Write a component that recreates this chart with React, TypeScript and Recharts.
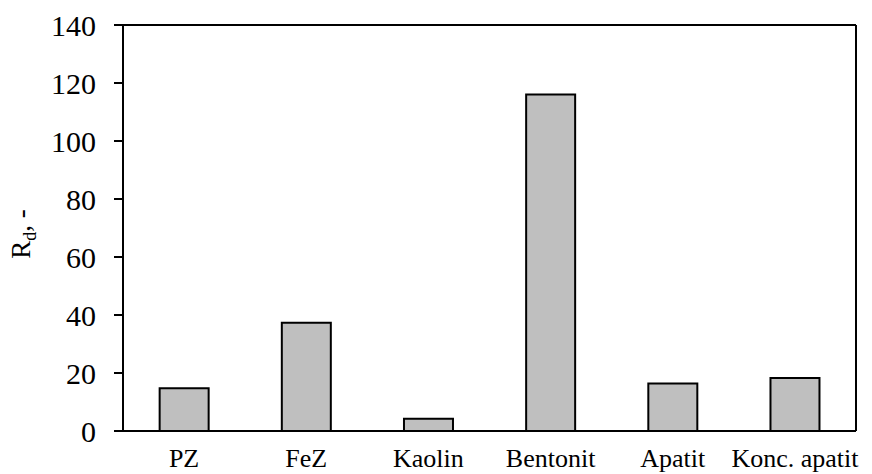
import { BarChart, Bar, XAxis, YAxis, ReferenceLine } from "recharts";

const categories = ["PZ", "FeZ", "Kaolin", "Bentonit", "Apatit", "Konc. apatit"];
const rdValues = [14.7, 37.3, 4.2, 116, 16.4, 18.3];
const yTicks = [0, 20, 40, 60, 80, 100, 120, 140];

const FONT = "'Times New Roman', 'Liberation Serif', 'DejaVu Serif', serif";

const data = categories.map((name, i) => ({ name, rd: rdValues[i] }));

function YLabel({ viewBox }: any) {
    const cx = 30;
    const cy = viewBox.y + viewBox.height / 2 + 6;
    return (
        <text
            x={cx}
            y={cy}
            transform={`rotate(-90, ${cx}, ${cy})`}
            textAnchor="middle"
            style={{ fontFamily: FONT, fontSize: 27 }}
            fill="#000"
        >
            R
            <tspan fontSize={18} dy={6}>d</tspan>
            <tspan dy={-6}>, -</tspan>
        </text>
    );
}

export default function App() {
    return (
        <div style={{ position: "absolute", left: 0, top: 0, background: "#fff", fontFamily: FONT }}>
            <BarChart
                width={872}
                height={474}
                data={data}
                margin={{ top: 25, right: 15, left: 0, bottom: 0 }}
                barCategoryGap="30%"
                style={{ fontFamily: FONT }}
            >
                <XAxis
                    dataKey="name"
                    height={43}
                    tickLine={false}
                    axisLine={{ stroke: "#000", strokeWidth: 2 }}
                    tick={{ fontSize: 26, fill: "#000", style: { fontFamily: FONT } }}
                    tickMargin={12}
                    interval={0}
                />
                <YAxis
                    domain={[0, 140]}
                    ticks={yTicks}
                    width={123}
                    tickSize={9}
                    tickLine={{ stroke: "#000", strokeWidth: 2 }}
                    axisLine={{ stroke: "#000", strokeWidth: 2 }}
                    tick={{ fontSize: 30, fill: "#000", style: { fontFamily: FONT } }}
                    tickMargin={18}
                    label={<YLabel />}
                />
                <YAxis
                    yAxisId="right"
                    orientation="right"
                    width={1}
                    tick={false}
                    tickLine={false}
                    axisLine={{ stroke: "#000", strokeWidth: 2 }}
                />
                <ReferenceLine y={140} stroke="#000" strokeWidth={2} />
                <Bar
                    dataKey="rd"
                    fill="#bfbfbf"
                    stroke="#000"
                    strokeWidth={2}
                    isAnimationActive={false}
                />
            </BarChart>
        </div>
    );
}
